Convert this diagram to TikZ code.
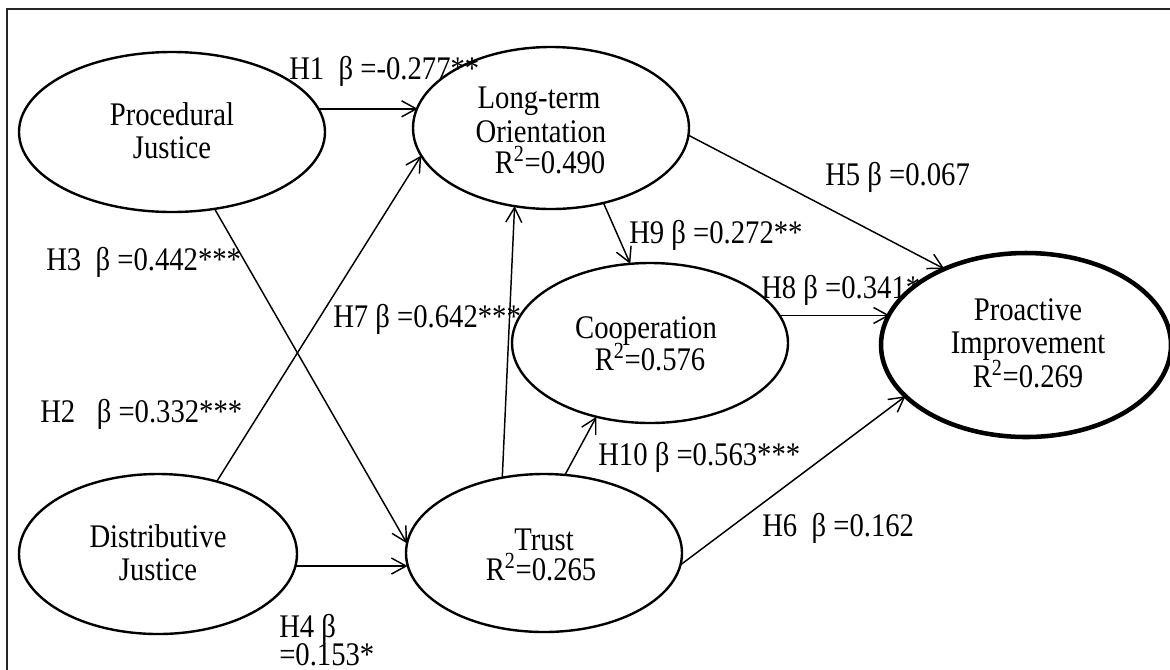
\documentclass[tikz,border=0pt]{standalone}
\usepackage{fontspec}
\usepackage{graphicx}
\setmainfont{Liberation Serif}
\usetikzlibrary{shapes.geometric,arrows.meta}
\newcommand{\vstr}[1]{\scalebox{1}[1.15]{#1}}
\begin{document}
\begin{tikzpicture}[x=0.75pt,y=-0.75pt,
  lat/.style={ellipse, draw, line width=1.8pt, inner sep=0pt, outer sep=0pt},
  arr/.style={-{Straight Barb[length=11pt,width=12pt,line width=1.1pt]}, line width=1.1pt},
  txt/.style={anchor=base, inner sep=0pt, font=\fontsize{21.5pt}{25pt}\selectfont},
  lbl/.style={anchor=base west, inner sep=0pt, font=\fontsize{21.5pt}{25pt}\selectfont}]
\useasboundingbox (0,0) rectangle (1170,669);
\clip (0,0) rectangle (1170,669);
\draw[line width=1.5pt, draw=black!85] (7,9) rectangle (1190,690);

% latent variables
\node[lat, minimum width=229.5pt, minimum height=120pt] (pj) at (172,132) {};
\node[lat, minimum width=207pt, minimum height=121.5pt] (lto) at (551,128) {};
\node[lat, minimum width=207pt, minimum height=120pt] (coop) at (650,343) {};
\node[lat, line width=3.4pt, minimum width=217.5pt, minimum height=138pt] (pi) at (1026,345) {};
\node[lat, minimum width=208.5pt, minimum height=120pt] (dj) at (158,554) {};
\node[lat, minimum width=207pt, minimum height=118.5pt] (tr) at (544,553) {};

% texts inside
\node[txt] (pj1) at (172,125) {\vstr{Procedural}};
\node[txt] (pj2) at (172,158) {\vstr{Justice}};
\node[txt] (lto1) at (539,108) {\vstr{Long-term}};
\node[txt] (lto2) at (541,142) {\vstr{Orientation}};
\node[txt] (lto3) at (550,173) {\vstr{R\textsuperscript{2}=0.490}};
\node[txt] (co1) at (646,338) {\vstr{Cooperation}};
\node[txt] (co2) at (650,370) {\vstr{R\textsuperscript{2}=0.576}};
\node[txt] (pi1) at (1028,320) {\vstr{Proactive}};
\node[txt] (pi2) at (1028,353) {\vstr{Improvement}};
\node[txt] (pi3) at (1028,387) {\vstr{R\textsuperscript{2}=0.269}};
\node[txt] (dj1) at (158,547) {\vstr{Distributive}};
\node[txt] (dj2) at (158,580) {\vstr{Justice}};
\node[txt] (tr1) at (544,550) {\vstr{Trust}};
\node[txt] (tr2) at (541,580) {\vstr{R\textsuperscript{2}=0.265}};

% paths
\draw[arr] (pj.9.3) -- (pj.9.3 -| lto.171.9);
\draw[arr] (dj.51.1) -- (lto.192.8);
\draw[arr] (pj.-61.2) -- (tr.176.7);
\draw[arr] (dj.-5.3) -- (dj.-5.3 -| tr.185.8);
\draw[arr] (tr.119.7) -- (lto.245.9);
\draw[arr] (tr.75.8) -- (coop.234.8);
\draw[arr] (lto.-55.4) -- (coop.104.5);
\draw[arr] (lto.-3.9) -- (pi.137.8);
\draw[arr] (coop.12.1) -- (coop.12.1 -| pi.167.7);
\draw[arr] (tr.-5.8) -- (pi.203.5);

% labels
\node[lbl] (h1) at (289,79) {\vstr{H1\ \ β =-0.277**}};
\node[lbl] (h3) at (46,270) {\vstr{H3\ \ β =0.442***}};
\node[lbl] (h7) at (333,327) {\vstr{H7 β =0.642***}};
\node[lbl] (h2) at (40,422) {\vstr{H2\ \ \ β =0.332***}};
\node[lbl] (h4a) at (279,637) {\vstr{H4 β}};
\node[lbl] (h4b) at (279,665) {\vstr{=0.153*}};
\node[lbl] (h5) at (825,185) {\vstr{H5 β =0.067}};
\node[lbl] (h9) at (629,243) {\vstr{H9 β =0.272**}};
\node[lbl] (h8) at (761,298) {\vstr{H8 β =0.341*}};
\node[lbl] (h10) at (598,465) {\vstr{H10 β =0.563***}};
\node[lbl] (h6) at (762,536) {\vstr{H6\ \ β =0.162}};
\end{tikzpicture}
\end{document}
